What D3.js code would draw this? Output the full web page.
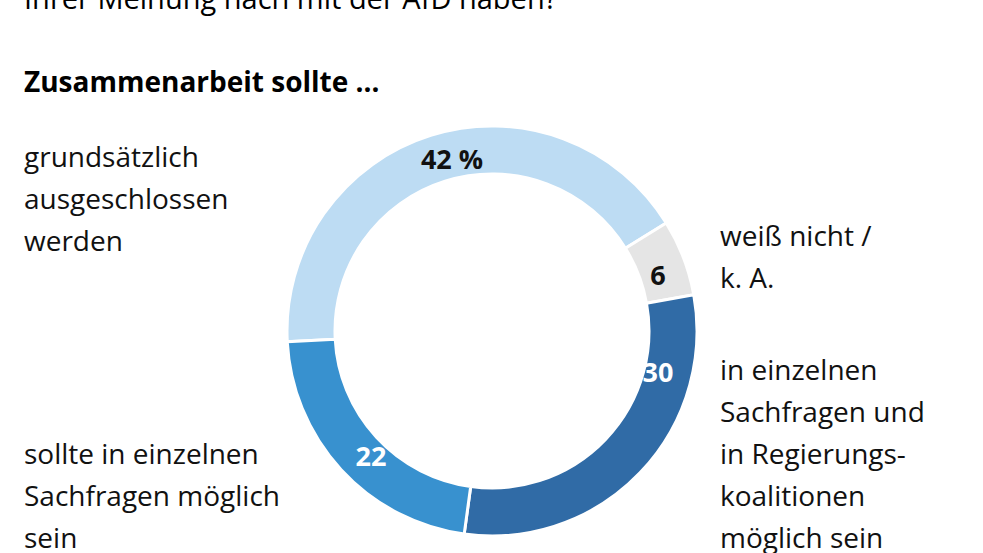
<!DOCTYPE html>
<html><head><meta charset="utf-8">
<script src="https://cdn.jsdelivr.net/npm/d3@7"></script>
<style>body{margin:0;background:#fff}text{font-family:"Open Sans",sans-serif}</style>
</head><body>
<script>
// Werte
const categories = ["grundsätzlich ausgeschlossen", "weiß nicht / k. A.", "Sachfragen und Koalitionen", "einzelne Sachfragen"];
const values = [42, 6, 30, 22];
const valueLabels = ["42 %", "6", "30", "22"];
const colors = ["#bddcf3", "#e5e5e5", "#306ba6", "#3891cf"];

const W = 983, H = 553, cx = 492, cy = 331, rOut = 205, rIn = 157;
const svg = d3.select("body").append("svg").attr("width", W).attr("height", H);

svg.append("text").attr("x", 24).attr("y", 9).attr("font-size", 29).text("Ihrer Meinung nach mit der AfD haben?");
svg.append("text").attr("x", 24).attr("y", 92).attr("font-size", 28).attr("font-weight", "bold").text("Zusammenarbeit sollte …");

const start = -93 * Math.PI / 180;
const pie = d3.pie().sort(null).startAngle(start).endAngle(start + 2 * Math.PI);
const arc = d3.arc().innerRadius(rIn).outerRadius(rOut);
const g = svg.append("g").attr("transform", `translate(${cx},${cy})`);
const arcs = pie(values);
g.selectAll("path").data(arcs).join("path")
  .attr("d", arc).attr("fill", (d, i) => colors[i])
  .attr("stroke", "#fff").attr("stroke-width", 3);

const labelPos = [[-40, -173], [166, -57], [166, 40], [-121, 124]];
g.selectAll("text.v").data(arcs).join("text").attr("class", "v")
  .attr("x", (d, i) => labelPos[i][0]).attr("y", (d, i) => labelPos[i][1])
  .attr("text-anchor", "middle").attr("dominant-baseline", "central")
  .attr("font-size", 27).attr("font-weight", "bold")
  .attr("fill", (d, i) => i < 2 ? "#111" : "#fff")
  .text((d, i) => valueLabels[i]);

const side = [
  {x: 24, y: 167, lines: ["grundsätzlich", "ausgeschlossen", "werden"]},
  {x: 720, y: 246, lines: ["weiß nicht /", "k. A."]},
  {x: 720, y: 380, lines: ["in einzelnen", "Sachfragen und", "in Regierungs-", "koalitionen", "möglich sein"]},
  {x: 24, y: 464, lines: ["sollte in einzelnen", "Sachfragen möglich", "sein"]}
];
side.forEach(s => {
  const t = svg.append("text").attr("x", s.x).attr("y", s.y).attr("font-size", 28).attr("fill", "#111");
  s.lines.forEach((l, j) => t.append("tspan").attr("x", s.x).attr("dy", j ? 42 : 0).text(l));
});
</script>
</body></html>
